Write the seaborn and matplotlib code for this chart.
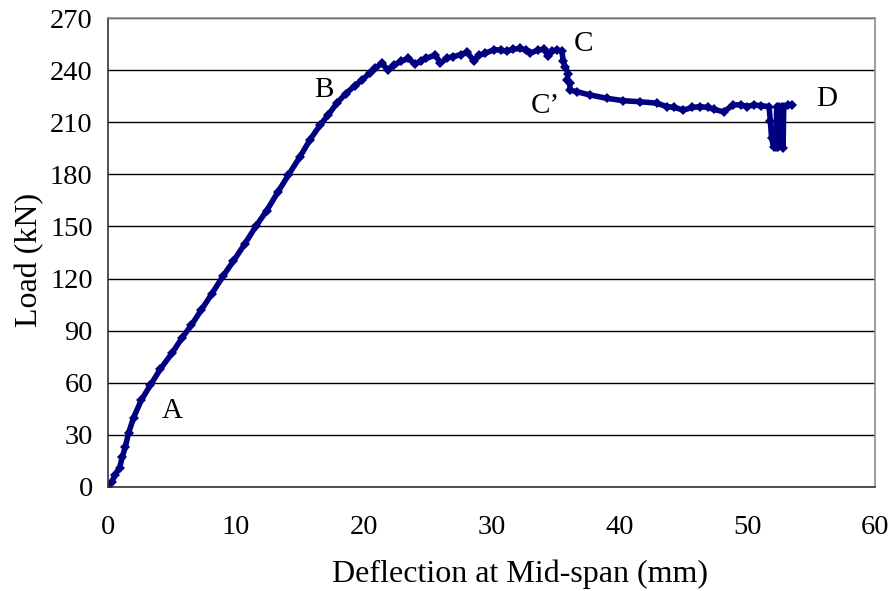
import matplotlib
matplotlib.use("Agg")
import matplotlib.pyplot as plt
import seaborn as sns
import pandas as pd

# load-deflection readings
deflection = [0, 0.3, 0.55, 0.9, 1.1, 1.35, 1.6, 2.0, 2.6, 3.3, 4.1, 5.0, 5.8, 6.5, 7.3, 8.1,
              9.0, 9.8, 10.7, 11.6, 12.4, 13.3, 14.1, 15.0, 15.8, 16.6, 17.2, 17.9, 18.6, 19.3,
              19.9, 20.5, 20.9, 21.4, 21.9, 22.4, 22.9, 23.5, 24.0, 24.5, 24.9, 25.6, 26.0, 26.5,
              27.0, 27.6, 28.1, 28.6, 29.0, 29.5, 30.2, 30.7, 31.2, 31.7, 32.2, 32.7, 33.0, 33.6,
              34.1, 34.45, 34.7, 35.1, 35.5, 35.6, 35.75, 36.0, 35.9, 36.1, 36.15, 36.7, 37.7,
              39.0, 40.3, 41.6, 42.9, 43.7, 44.3, 45.0, 45.7, 46.3, 46.9, 47.4, 48.15, 48.9, 49.5,
              50.0, 50.5, 51.1, 51.7, 51.8, 51.9, 52.05, 52.25, 52.3, 52.35, 52.4, 52.5, 52.7,
              52.8, 52.85, 53.2, 53.5]
load = [0, 3, 7, 11, 17, 23, 31, 40, 50, 58.5, 68, 77, 86, 93, 102, 111,
        121.5, 130, 140, 150.5, 159, 170, 179.5, 190, 200, 208.5, 214, 221, 226.5, 231,
        234.5, 238.5, 241, 244, 240, 243, 245, 246.8, 243.3, 245.5, 246.8, 248.7, 244, 247,
        247.7, 249, 250.2, 245.4, 248.5, 249.7, 251.8, 251.5, 251, 252, 252.5, 251.5, 249.7, 251.5,
        252, 248, 251, 251.5, 251, 245, 242, 238, 234.5, 232.5, 228.5, 227.5, 225.7,
        223.8, 222.4, 221.8, 221, 219, 218.5, 217, 218.5, 219, 218.5, 217.4, 216, 220, 220,
        219, 220, 219.5, 219, 211, 201, 196, 196, 219, 205, 196, 219, 219,
        195, 219, 220, 220]

point_labels = ["A", "B", "C", "C\u2019", "D"]
label_x = [5.0, 16.9, 37.2, 34.2, 56.2]
label_y = [44, 228.6, 255, 219.3, 223.4]

df = pd.DataFrame({"deflection": deflection, "load": load})

sns.set_theme(style="white")
plt.rcParams["font.family"] = ["Liberation Serif", "DejaVu Serif"]

fig = plt.figure(figsize=(8.93, 5.91), dpi=100)
ax = fig.add_axes([0.121, 0.176, 0.859, 0.7935])

sns.lineplot(data=df, x="deflection", y="load", sort=False, estimator=None,
             color="#000080", linewidth=4, marker="D", markersize=5,
             markeredgewidth=0, ax=ax)

for t, x, y in zip(point_labels, label_x, label_y):
    ax.text(x, y, t, fontsize=21, ha="center", va="center", color="black")

ax.set_xlim(0, 60)
ax.set_ylim(0, 270)
ax.set_xticks(range(0, 61, 10))
ax.set_yticks(range(0, 271, 30))
ax.yaxis.grid(True, color="black", linewidth=1)
ax.xaxis.grid(False)

ax.set_xlabel("Deflection at Mid-span (mm)", fontsize=23, color="black")
ax.set_ylabel("Load (kN)", fontsize=23, color="black")
ax.xaxis.set_label_coords(0.537, -0.155)
ax.yaxis.set_label_coords(-0.083, 0.484)
ax.tick_params(axis="both", labelsize=20.5, colors="black", direction="out",
               length=6, width=1, pad=5)
ax.tick_params(axis="x", color="#777777", pad=14)
ax.tick_params(axis="y", color="#333333")

for side in ["left", "bottom"]:
    ax.spines[side].set_color("#333333")
    ax.spines[side].set_linewidth(1.2)
for side in ["top", "right"]:
    ax.spines[side].set_color("#8c8c8c")
    ax.spines[side].set_linewidth(1.2)

fig.savefig("out.png", dpi=100)
